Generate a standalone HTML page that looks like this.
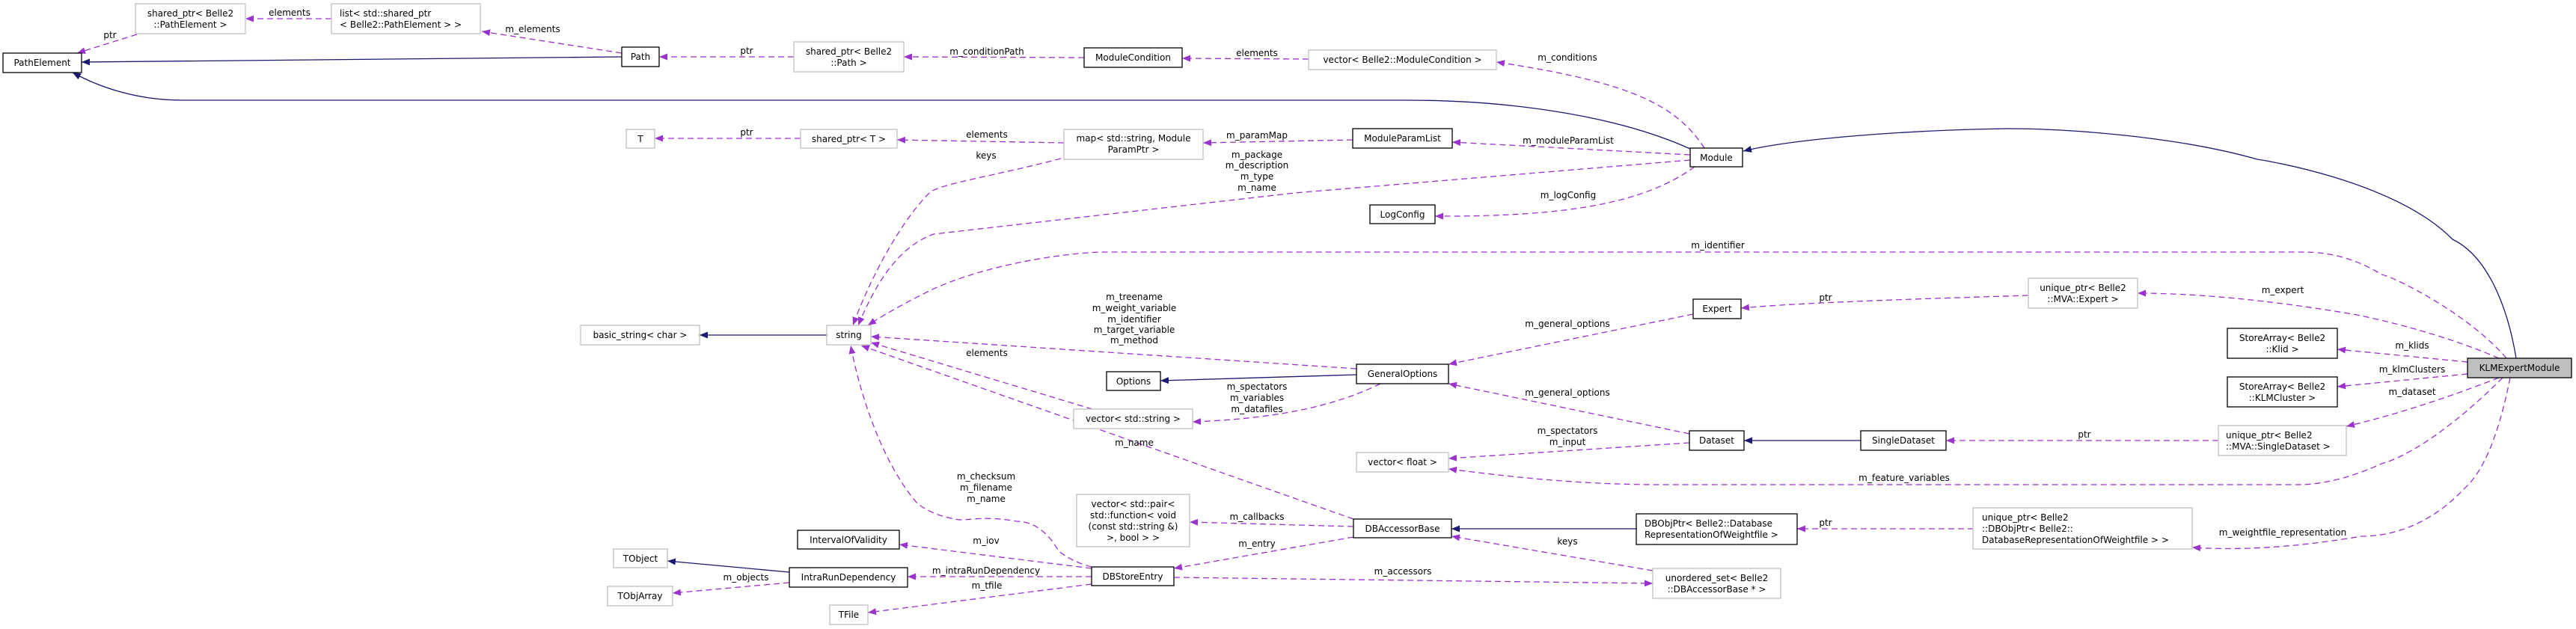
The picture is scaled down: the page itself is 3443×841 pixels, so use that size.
<!DOCTYPE html>
<html><head><meta charset="utf-8"><style>
html,body{margin:0;padding:0;background:#fff;}
svg{display:block;}
text{font-family:"DejaVu Sans","Liberation Sans",sans-serif;font-size:12px;fill:#000;}
.b{fill:#fff;stroke:#000;stroke-width:1.3;}
.g{fill:#fff;stroke:#bfbfbf;stroke-width:1.3;}
.s{fill:none;stroke:#191970;stroke-width:1.3;}
.d{fill:none;stroke:#9a32cd;stroke-width:1.3;stroke-dasharray:8,5;}
</style></head><body>
<svg width="3443" height="841" viewBox="0 0 3443 841" xmlns="http://www.w3.org/2000/svg">
<defs>
<marker id="an" markerUnits="userSpaceOnUse" markerWidth="12" markerHeight="9" refX="11" refY="4.5" orient="auto"><path d="M0,0 L11,4.5 L0,9 z" fill="#191970"/></marker>
<marker id="ap" markerUnits="userSpaceOnUse" markerWidth="12" markerHeight="9" refX="11" refY="4.5" orient="auto"><path d="M0,0 L11,4.5 L0,9 z" fill="#9a32cd"/></marker>
</defs>

<!-- solid inheritance edges -->
<g class="s">
<path d="M831,76 L109,83" marker-end="url(#an)"/>
<path d="M2259,199 C2150,150 2000,134 1881,134 L244,134 C180,134 130,115 97,97" marker-end="url(#an)"/>
<path d="M3363,479 C3350,400 3320,340 3278,320 C3200,240 3017,213 3017,213 C2900,180 2750,172 2684,172 C2550,174 2400,185 2330,202" marker-end="url(#an)"/>
<path d="M1105,448 L935,448" marker-end="url(#an)"/>
<path d="M1813,501 L1551,509" marker-end="url(#an)"/>
<path d="M2487,589 L2331,589" marker-end="url(#an)"/>
<path d="M2187,707 L1940,707" marker-end="url(#an)"/>
<path d="M1055,765 L892,750" marker-end="url(#an)"/>
</g>

<!-- dashed edges -->
<g class="d">
<path d="M183,46 L103,71" marker-end="url(#ap)"/>
<path d="M443,25 L328,25" marker-end="url(#ap)"/>
<path d="M831,71 L644,42" marker-end="url(#ap)"/>
<path d="M1061,76 L881,76" marker-end="url(#ap)"/>
<path d="M1449,77 L1208,76" marker-end="url(#ap)"/>
<path d="M1749,79 L1580,78" marker-end="url(#ap)"/>
<path d="M2278,198 C2240,140 2180,110 2000,83" marker-end="url(#ap)"/>
<path d="M1070,185 L875,185" marker-end="url(#ap)"/>
<path d="M1422,191 L1199,187" marker-end="url(#ap)"/>
<path d="M1808,187 L1608,191" marker-end="url(#ap)"/>
<path d="M2259,207 L1941,190" marker-end="url(#ap)"/>
<path d="M2265,223 C2200,270 2100,290 1918,289" marker-end="url(#ap)"/>
<path d="M1418,212 C1330,235 1260,245 1243,257 C1200,300 1160,380 1140,435" marker-end="url(#ap)"/>
<path d="M2259,214 L1730,258 L1248,313 C1200,330 1170,380 1147,435" marker-end="url(#ap)"/>
<path d="M3350,479 C3300,420 3200,370 3183,367 C3140,340 3100,337 3078,337 L1470,337 C1400,340 1300,360 1240,390 C1200,410 1175,425 1160,435" marker-end="url(#ap)"/>
<path d="M3340,479 C3250,440 3150,421 3150,421 C3000,395 2900,392 2857,392" marker-end="url(#ap)"/>
<path d="M2711,395 C2550,400 2400,405 2327,412" marker-end="url(#ap)"/>
<path d="M2263,420 L1936,487" marker-end="url(#ap)"/>
<path d="M3298,484 L3124,467" marker-end="url(#ap)"/>
<path d="M3298,500 L3124,517" marker-end="url(#ap)"/>
<path d="M3340,505 C3250,540 3180,560 3136,570" marker-end="url(#ap)"/>
<path d="M3345,505 C3280,570 3220,610 3183,620 C3140,640 3100,648 3072,648 L2219,648 C2100,648 2000,635 1936,627" marker-end="url(#ap)"/>
<path d="M3355,505 C3340,580 3320,630 3294,653 C3250,700 3200,717 3156,717 C3050,735 2980,735 2930,732" marker-end="url(#ap)"/>
<path d="M2638,707 L2402,707" marker-end="url(#ap)"/>
<path d="M2965,589 L2601,589" marker-end="url(#ap)"/>
<path d="M2258,580 L1936,513" marker-end="url(#ap)"/>
<path d="M2258,592 L1936,613" marker-end="url(#ap)"/>
<path d="M1845,513 C1780,545 1700,560 1594,564" marker-end="url(#ap)"/>
<path d="M1813,493 L1164,450" marker-end="url(#ap)"/>
<path d="M1460,547 L1164,458" marker-end="url(#ap)"/>
<path d="M1809,694 L1151,462" marker-end="url(#ap)"/>
<path d="M1459,758 C1430,750 1420,740 1415,737 C1400,710 1380,697 1359,697 C1320,690 1300,695 1282,695 C1250,690 1235,680 1226,673 C1180,620 1150,530 1137,462" marker-end="url(#ap)"/>
<path d="M1809,704 L1590,698" marker-end="url(#ap)"/>
<path d="M1809,718 L1569,760" marker-end="url(#ap)"/>
<path d="M1459,760 L1202,728" marker-end="url(#ap)"/>
<path d="M1459,771 L1213,771" marker-end="url(#ap)"/>
<path d="M1459,781 L1160,819" marker-end="url(#ap)"/>
<path d="M1055,779 L899,793" marker-end="url(#ap)"/>
<path d="M1569,772 L2209,780" marker-end="url(#ap)"/>
<path d="M2209,763 L1940,717" marker-end="url(#ap)"/>
</g>

<!-- edge labels -->
<g text-anchor="middle">
<text x="147" y="51">ptr</text>
<text x="387" y="21">elements</text>
<text x="712" y="43">m_elements</text>
<text x="998" y="72">ptr</text>
<text x="1319" y="73">m_conditionPath</text>
<text x="1680" y="75">elements</text>
<text x="2095" y="81">m_conditions</text>
<text x="998" y="181">ptr</text>
<text x="1319" y="184">elements</text>
<text x="1680" y="185">m_paramMap</text>
<text x="2096" y="192">m_moduleParamList</text>
<text x="1318" y="212">keys</text>
<text x="1680" y="211">m_package</text>
<text x="1680" y="225">m_description</text>
<text x="1680" y="240">m_type</text>
<text x="1680" y="255">m_name</text>
<text x="2096" y="265">m_logConfig</text>
<text x="2296" y="332">m_identifier</text>
<text x="3051" y="392">m_expert</text>
<text x="2440" y="402">ptr</text>
<text x="1516" y="401">m_treename</text>
<text x="1516" y="416">m_weight_variable</text>
<text x="1516" y="431">m_identifier</text>
<text x="1516" y="445">m_target_variable</text>
<text x="1516" y="459">m_method</text>
<text x="2095" y="437">m_general_options</text>
<text x="1319" y="476">elements</text>
<text x="3224" y="466">m_klids</text>
<text x="3224" y="498">m_klmClusters</text>
<text x="3224" y="528">m_dataset</text>
<text x="1680" y="521">m_spectators</text>
<text x="1680" y="536">m_variables</text>
<text x="1680" y="551">m_datafiles</text>
<text x="2095" y="529">m_general_options</text>
<text x="2095" y="580">m_spectators</text>
<text x="2095" y="595">m_input</text>
<text x="2786" y="585">ptr</text>
<text x="1516" y="596">m_name</text>
<text x="2545" y="643">m_feature_variables</text>
<text x="1318" y="641">m_checksum</text>
<text x="1318" y="656">m_filename</text>
<text x="1318" y="671">m_name</text>
<text x="1680" y="695">m_callbacks</text>
<text x="2440" y="703">ptr</text>
<text x="3051" y="716">m_weightfile_representation</text>
<text x="1318" y="727">m_iov</text>
<text x="1680" y="731">m_entry</text>
<text x="2095" y="728">keys</text>
<text x="1318" y="767">m_intraRunDependency</text>
<text x="1875" y="768">m_accessors</text>
<text x="997" y="776">m_objects</text>
<text x="1319" y="787">m_tfile</text>
</g>

<!-- nodes -->
<g>
<rect class="b" x="4" y="71" width="105" height="26"/><text x="56.5" y="88" text-anchor="middle">PathElement</text>
<rect class="g" x="181" y="5" width="147" height="40"/><text x="254.5" y="22" text-anchor="middle">shared_ptr&lt; Belle2</text><text x="254.5" y="37" text-anchor="middle">::PathElement &gt;</text>
<rect class="g" x="443" y="5" width="199" height="40"/><text x="454" y="22">list&lt; std::shared_ptr</text><text x="454" y="37">&lt; Belle2::PathElement &gt; &gt;</text>
<rect class="b" x="831" y="63" width="50" height="26"/><text x="856" y="80" text-anchor="middle">Path</text>
<rect class="g" x="1061" y="56" width="147" height="40"/><text x="1134.5" y="73" text-anchor="middle">shared_ptr&lt; Belle2</text><text x="1134.5" y="88" text-anchor="middle">::Path &gt;</text>
<rect class="b" x="1449" y="64" width="131" height="26"/><text x="1514.5" y="81" text-anchor="middle">ModuleCondition</text>
<rect class="g" x="1749" y="67" width="251" height="26"/><text x="1874.5" y="84" text-anchor="middle">vector&lt; Belle2::ModuleCondition &gt;</text>
<rect class="g" x="837" y="173" width="38" height="25"/><text x="856" y="190" text-anchor="middle">T</text>
<rect class="g" x="1070" y="173" width="129" height="25"/><text x="1134.5" y="190" text-anchor="middle">shared_ptr&lt; T &gt;</text>
<rect class="g" x="1422" y="173" width="186" height="40"/><text x="1515" y="189" text-anchor="middle">map&lt; std::string, Module</text><text x="1515" y="204" text-anchor="middle">ParamPtr &gt;</text>
<rect class="b" x="1808" y="172" width="133" height="26"/><text x="1874.5" y="189" text-anchor="middle">ModuleParamList</text>
<rect class="b" x="2259" y="198" width="70" height="25"/><text x="2294" y="215" text-anchor="middle">Module</text>
<rect class="b" x="1831" y="274" width="87" height="25"/><text x="1874.5" y="291" text-anchor="middle">LogConfig</text>
<rect class="g" x="776" y="435" width="159" height="26"/><text x="855.5" y="452" text-anchor="middle">basic_string&lt; char &gt;</text>
<rect class="g" x="1105" y="435" width="59" height="26"/><text x="1134.5" y="452" text-anchor="middle">string</text>
<rect class="b" x="2263" y="400" width="64" height="26"/><text x="2295" y="417" text-anchor="middle">Expert</text>
<rect class="g" x="2711" y="372" width="146" height="40"/><text x="2784" y="389" text-anchor="middle">unique_ptr&lt; Belle2</text><text x="2784" y="404" text-anchor="middle">::MVA::Expert &gt;</text>
<rect class="b" x="1813" y="487" width="123" height="26"/><text x="1874.5" y="504" text-anchor="middle">GeneralOptions</text>
<rect class="b" x="1479" y="497" width="72" height="25"/><text x="1515" y="514" text-anchor="middle">Options</text>
<rect class="g" x="1435" y="547" width="159" height="26"/><text x="1514.5" y="564" text-anchor="middle">vector&lt; std::string &gt;</text>
<rect class="g" x="1813" y="605" width="123" height="26"/><text x="1874.5" y="622" text-anchor="middle">vector&lt; float &gt;</text>
<rect class="b" x="2258" y="576" width="73" height="26"/><text x="2294.5" y="593" text-anchor="middle">Dataset</text>
<rect class="b" x="2487" y="576" width="114" height="26"/><text x="2544" y="593" text-anchor="middle">SingleDataset</text>
<rect class="b" x="2977" y="439" width="147" height="40"/><text x="3050.5" y="456" text-anchor="middle">StoreArray&lt; Belle2</text><text x="3050.5" y="471" text-anchor="middle">::Klid &gt;</text>
<rect class="b" x="2977" y="504" width="147" height="40"/><text x="3050.5" y="521" text-anchor="middle">StoreArray&lt; Belle2</text><text x="3050.5" y="536" text-anchor="middle">::KLMCluster &gt;</text>
<rect class="g" x="2965" y="569" width="171" height="40"/><text x="2975" y="586">unique_ptr&lt; Belle2</text><text x="2975" y="601">::MVA::SingleDataset &gt;</text>
<rect x="3298" y="479" width="139" height="26" fill="#bfbfbf" stroke="#000" stroke-width="1.3"/><text x="3367.5" y="496" text-anchor="middle">KLMExpertModule</text>
<rect class="g" x="1439" y="661" width="151" height="70"/><text x="1514.5" y="678" text-anchor="middle">vector&lt; std::pair&lt;</text><text x="1514.5" y="693" text-anchor="middle">std::function&lt; void</text><text x="1514.5" y="708" text-anchor="middle">(const std::string &amp;)</text><text x="1514.5" y="723" text-anchor="middle">&gt;, bool &gt; &gt;</text>
<rect class="b" x="1809" y="694" width="131" height="25"/><text x="1874.5" y="711" text-anchor="middle">DBAccessorBase</text>
<rect class="b" x="2187" y="687" width="215" height="41"/><text x="2198" y="704">DBObjPtr&lt; Belle2::Database</text><text x="2198" y="719">RepresentationOfWeightfile &gt;</text>
<rect class="g" x="2637" y="679" width="293" height="55"/><text x="2649" y="696">unique_ptr&lt; Belle2</text><text x="2649" y="711">::DBObjPtr&lt; Belle2::</text><text x="2649" y="726">DatabaseRepresentationOfWeightfile &gt; &gt;</text>
<rect class="b" x="1066" y="709" width="136" height="25"/><text x="1134" y="726" text-anchor="middle">IntervalOfValidity</text>
<rect class="g" x="820" y="734" width="72" height="25"/><text x="856" y="751" text-anchor="middle">TObject</text>
<rect class="b" x="1055" y="759" width="158" height="26"/><text x="1134" y="776" text-anchor="middle">IntraRunDependency</text>
<rect class="b" x="1459" y="758" width="110" height="25"/><text x="1514" y="775" text-anchor="middle">DBStoreEntry</text>
<rect class="g" x="812" y="784" width="87" height="26"/><text x="855.5" y="801" text-anchor="middle">TObjArray</text>
<rect class="g" x="1109" y="809" width="51" height="26"/><text x="1134.5" y="826" text-anchor="middle">TFile</text>
<rect class="g" x="2209" y="760" width="171" height="40"/><text x="2294.5" y="777" text-anchor="middle">unordered_set&lt; Belle2</text><text x="2294.5" y="792" text-anchor="middle">::DBAccessorBase * &gt;</text>
</g>
</svg>
</body></html>
